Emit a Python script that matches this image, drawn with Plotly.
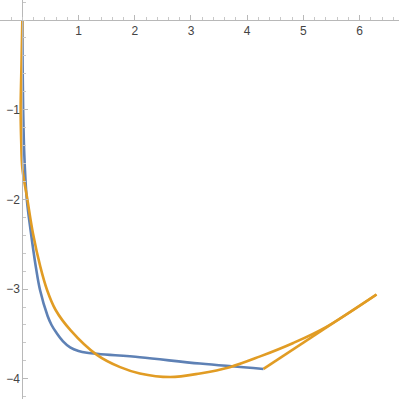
import plotly.graph_objects as go

# blue curve
blue_x = [0, 0.005, 0.015, 0.035, 0.08, 0.155, 0.24, 0.315, 0.45, 0.52, 0.61, 0.72, 0.85, 1.0, 1.15, 2.09, 3.16, 4.29]
blue_y = [0, -0.5, -1.0, -1.5, -2.0, -2.38, -2.75, -3.01, -3.3, -3.40, -3.49, -3.58, -3.65, -3.69, -3.71, -3.76, -3.83, -3.89]

# orange curve, plus the straight segment that closes it
orange_x = [0, -0.015, -0.03, -0.02, 0.0, 0.09, 0.19, 0.32, 0.44, 0.59, 0.86, 1.32, 1.74, 2.09, 2.63, 3.16, 3.69, 4.23, 4.82, 5.41, 6.30]
orange_y = [0, -0.5, -1.0, -1.35, -1.65, -2.0, -2.38, -2.75, -3.01, -3.23, -3.46, -3.73, -3.87, -3.94, -3.98, -3.94, -3.87, -3.75, -3.60, -3.42, -3.06]
closing_x = [6.30, 4.29]
closing_y = [-3.06, -3.89]

x_ticks = [1, 2, 3, 4, 5, 6]
y_ticks = [-1, -2, -3, -4]

BLUE = "#5E81B5"
ORANGE = "#E19C24"
x_range = [-0.397, 6.70]
y_range = [-4.225, 0.223]

fig = go.Figure()
fig.add_trace(go.Scatter(x=blue_x, y=blue_y, mode="lines",
                         line=dict(color=BLUE, width=2.6, shape="spline", smoothing=1.0)))
fig.add_trace(go.Scatter(x=orange_x, y=orange_y, mode="lines",
                         line=dict(color=ORANGE, width=2.6, shape="spline", smoothing=1.0)))
fig.add_trace(go.Scatter(x=closing_x, y=closing_y, mode="lines",
                         line=dict(color=ORANGE, width=2.6)))

axis_common = dict(
    showgrid=False, zeroline=False, showline=True, linecolor="#b8b8b8", linewidth=1,
    ticks="inside", ticklen=5, tickcolor="#b8b8b8", tickwidth=1,
    tickfont=dict(family="Liberation Sans, Arial", size=12, color="#444444"),
    minor=dict(ticks="inside", ticklen=3, tickcolor="#c8c8c8", dtick=0.2, tick0=0, showgrid=False),
    fixedrange=True, automargin=False,
)

fig.update_layout(
    width=399, height=399,
    margin=dict(l=0, r=0, t=0, b=0),
    paper_bgcolor="white", plot_bgcolor="white",
    showlegend=False,
    xaxis=dict(range=x_range, tickmode="array", tickvals=x_ticks,
               ticktext=[str(v) for v in x_ticks],
               anchor="free", position=(0 - y_range[0]) / (y_range[1] - y_range[0]),
               side="bottom", **axis_common),
    yaxis=dict(range=y_range, tickmode="array", tickvals=y_ticks,
               ticktext=["\u2212" + str(-v) for v in y_ticks],
               anchor="free", position=(0 - x_range[0]) / (x_range[1] - x_range[0]),
               side="left", **axis_common),
)

# drop the page's default body margin so the figure sits at the window corner
fig.write_html("out.html", config={"displayModeBar": False},
               post_script="document.body.style.margin='0';")
